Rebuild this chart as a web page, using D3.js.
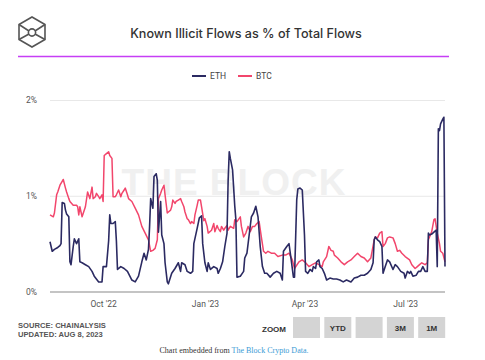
<!DOCTYPE html>
<html><head><meta charset="utf-8">
<script src="https://cdn.jsdelivr.net/npm/d3@7/dist/d3.min.js"></script>
<style>
html,body{margin:0;padding:0;background:#fff;}
svg{display:block;}
</style></head>
<body>
<svg id="chart" width="485" height="360"></svg>
<script>
// ---- data (values in % of total flows) ----
const ethDates = ["2022-08-14","2022-08-16","2022-08-18","2022-08-21","2022-08-23","2022-08-24","2022-08-25","2022-08-27","2022-08-28","2022-08-29","2022-08-31","2022-09-01","2022-09-02","2022-09-04","2022-09-05","2022-09-07","2022-09-09","2022-09-10","2022-09-12","2022-09-15","2022-09-18","2022-09-21","2022-09-23","2022-09-27","2022-09-30","2022-10-01","2022-10-04","2022-10-06","2022-10-07","2022-10-08","2022-10-10","2022-10-12","2022-10-13","2022-10-14","2022-10-17","2022-10-20","2022-10-23","2022-10-27","2022-10-30","2022-11-02","2022-11-05","2022-11-07","2022-11-09","2022-11-11","2022-11-12","2022-11-13","2022-11-15","2022-11-16","2022-11-18","2022-11-19","2022-11-20","2022-11-22","2022-11-23","2022-11-25","2022-11-26","2022-11-28","2022-11-29","2022-12-02","2022-12-05","2022-12-08","2022-12-10","2022-12-11","2022-12-14","2022-12-16","2022-12-19","2022-12-21","2022-12-22","2022-12-25","2022-12-27","2022-12-29","2022-12-30","2023-01-01","2023-01-03","2023-01-04","2023-01-06","2023-01-09","2023-01-12","2023-01-13","2023-01-15","2023-01-17","2023-01-19","2023-01-21","2023-01-22","2023-01-23","2023-01-24","2023-01-26","2023-01-28","2023-01-29","2023-01-30","2023-02-02","2023-02-05","2023-02-06","2023-02-08","2023-02-10","2023-02-12","2023-02-14","2023-02-16","2023-02-18","2023-02-20","2023-02-22","2023-02-24","2023-02-26","2023-03-01","2023-03-04","2023-03-07","2023-03-10","2023-03-12","2023-03-13","2023-03-16","2023-03-18","2023-03-20","2023-03-22","2023-03-23","2023-03-25","2023-03-26","2023-03-28","2023-03-30","2023-04-01","2023-04-02","2023-04-04","2023-04-06","2023-04-08","2023-04-09","2023-04-11","2023-04-12","2023-04-14","2023-04-15","2023-04-17","2023-04-19","2023-04-21","2023-04-24","2023-04-27","2023-04-30","2023-05-03","2023-05-06","2023-05-09","2023-05-13","2023-05-16","2023-05-19","2023-05-22","2023-05-25","2023-05-28","2023-05-31","2023-06-02","2023-06-03","2023-06-04","2023-06-06","2023-06-08","2023-06-10","2023-06-11","2023-06-13","2023-06-15","2023-06-17","2023-06-20","2023-06-22","2023-06-24","2023-06-27","2023-06-30","2023-07-01","2023-07-03","2023-07-05","2023-07-06","2023-07-08","2023-07-11","2023-07-13","2023-07-15","2023-07-17","2023-07-19","2023-07-21","2023-07-22","2023-07-23","2023-07-25","2023-07-27","2023-07-29","2023-07-30","2023-07-31","2023-08-01","2023-08-02","2023-08-04","2023-08-05","2023-08-06"];
const ethValues = [0.52,0.42,0.44,0.46,0.48,0.50,0.93,0.92,0.85,0.81,0.78,0.31,0.28,0.47,0.55,0.50,0.55,0.31,0.30,0.28,0.26,0.21,0.16,0.10,0.10,0.26,0.26,0.53,0.80,0.71,0.71,0.73,0.53,0.23,0.26,0.24,0.21,0.12,0.10,0.16,0.31,0.40,0.33,0.44,0.68,0.97,0.87,1.20,1.23,1.16,0.62,0.94,0.59,0.50,0.30,0.10,0.08,0.19,0.24,0.30,0.21,0.30,0.28,0.21,0.19,0.21,0.50,0.66,0.77,0.79,0.50,0.30,0.21,0.30,0.23,0.26,0.24,0.19,0.24,0.31,0.47,0.61,1.16,1.46,1.39,1.27,0.89,0.75,0.15,0.16,0.21,0.35,0.40,0.59,0.78,0.82,0.89,0.78,0.47,0.26,0.19,0.19,0.15,0.19,0.21,0.19,0.12,0.42,0.47,0.50,0.33,0.15,0.15,0.96,1.07,1.08,1.06,0.59,0.21,0.19,0.23,0.21,0.26,0.24,0.31,0.33,0.26,0.24,0.19,0.12,0.14,0.13,0.13,0.12,0.10,0.12,0.10,0.14,0.15,0.17,0.17,0.19,0.23,0.30,0.54,0.57,0.54,0.52,0.47,0.19,0.26,0.33,0.31,0.23,0.28,0.26,0.21,0.19,0.14,0.21,0.19,0.21,0.16,0.17,0.21,0.21,0.26,0.21,0.21,0.61,0.59,0.60,0.62,0.64,0.26,1.70,1.68,1.75,1.80,1.82,0.26];

const btcDates = ["2022-08-14","2022-08-17","2022-08-18","2022-08-20","2022-08-21","2022-08-23","2022-08-25","2022-08-26","2022-08-28","2022-08-29","2022-08-31","2022-09-01","2022-09-04","2022-09-07","2022-09-08","2022-09-09","2022-09-10","2022-09-12","2022-09-15","2022-09-17","2022-09-19","2022-09-21","2022-09-22","2022-09-24","2022-09-25","2022-09-27","2022-09-28","2022-09-30","2022-10-01","2022-10-02","2022-10-04","2022-10-06","2022-10-07","2022-10-09","2022-10-10","2022-10-12","2022-10-13","2022-10-15","2022-10-17","2022-10-18","2022-10-20","2022-10-21","2022-10-23","2022-10-24","2022-10-27","2022-10-30","2022-11-02","2022-11-05","2022-11-08","2022-11-11","2022-11-13","2022-11-15","2022-11-17","2022-11-19","2022-11-20","2022-11-22","2022-11-23","2022-11-25","2022-11-26","2022-11-28","2022-11-29","2022-12-01","2022-12-02","2022-12-03","2022-12-05","2022-12-06","2022-12-08","2022-12-10","2022-12-11","2022-12-13","2022-12-14","2022-12-16","2022-12-17","2022-12-19","2022-12-20","2022-12-22","2022-12-23","2022-12-25","2022-12-26","2022-12-28","2022-12-29","2022-12-31","2023-01-01","2023-01-03","2023-01-04","2023-01-07","2023-01-09","2023-01-10","2023-01-12","2023-01-13","2023-01-15","2023-01-16","2023-01-18","2023-01-19","2023-01-21","2023-01-22","2023-01-24","2023-01-27","2023-01-28","2023-01-30","2023-02-02","2023-02-03","2023-02-05","2023-02-07","2023-02-09","2023-02-11","2023-02-13","2023-02-15","2023-02-17","2023-02-19","2023-02-21","2023-02-23","2023-02-25","2023-02-27","2023-03-02","2023-03-05","2023-03-08","2023-03-12","2023-03-15","2023-03-18","2023-03-21","2023-03-23","2023-03-27","2023-03-30","2023-04-02","2023-04-05","2023-04-08","2023-04-11","2023-04-14","2023-04-17","2023-04-18","2023-04-21","2023-04-23","2023-04-25","2023-04-27","2023-04-28","2023-05-01","2023-05-04","2023-05-07","2023-05-10","2023-05-13","2023-05-16","2023-05-19","2023-05-22","2023-05-25","2023-05-28","2023-05-31","2023-06-03","2023-06-04","2023-06-06","2023-06-08","2023-06-10","2023-06-11","2023-06-13","2023-06-15","2023-06-17","2023-06-20","2023-06-22","2023-06-24","2023-06-26","2023-06-28","2023-07-01","2023-07-05","2023-07-07","2023-07-10","2023-07-12","2023-07-14","2023-07-16","2023-07-19","2023-07-21","2023-07-22","2023-07-25","2023-07-27","2023-07-28","2023-07-30","2023-08-01","2023-08-02","2023-08-04","2023-08-06"];
const btcValues = [0.80,0.78,0.82,1.01,1.04,1.11,1.15,1.17,1.08,1.04,0.97,0.94,0.90,0.90,0.885,0.80,0.885,0.78,0.885,1.04,0.97,1.09,0.97,0.99,1.025,0.99,0.97,1.01,0.94,1.42,1.44,1.46,1.42,1.39,0.99,0.99,1.01,1.06,0.99,1.025,1.06,1.08,1.01,0.97,0.94,0.87,0.80,0.68,0.61,0.54,0.42,0.43,0.45,0.54,0.97,1.025,1.06,1.11,1.01,0.82,0.83,0.85,0.885,0.955,0.92,0.94,0.955,0.97,0.94,0.885,0.83,0.76,0.75,0.71,0.73,0.71,0.80,0.90,0.955,0.955,0.885,0.74,0.76,0.68,0.61,0.64,0.71,0.625,0.69,0.66,0.625,0.68,0.64,0.66,0.69,0.64,0.68,0.66,0.75,0.73,0.78,0.68,0.57,0.61,0.68,0.625,0.68,0.68,0.71,0.73,0.57,0.42,0.40,0.42,0.40,0.40,0.365,0.38,0.38,0.40,0.33,0.24,0.31,0.33,0.30,0.26,0.28,0.30,0.28,0.26,0.31,0.365,0.47,0.43,0.42,0.38,0.35,0.31,0.28,0.31,0.33,0.365,0.40,0.365,0.35,0.31,0.35,0.54,0.57,0.56,0.61,0.625,0.47,0.50,0.56,0.57,0.56,0.50,0.42,0.43,0.40,0.365,0.33,0.28,0.24,0.26,0.28,0.30,0.28,0.30,0.54,0.625,0.75,0.76,0.61,0.50,0.42,0.40,0.31];

const yTicks = [0, 1, 2];
const xTicks = ["2022-10-01","2023-01-01","2023-04-01","2023-07-01"];
const seriesNames = ["ETH","BTC"];
const seriesColors = ["#2b2a62","#f2466c"];
const zoomButtons = ["", "YTD", "", "3M", "1M"];

// ---- drawing ----
const svg = d3.select("#chart");
const parse = d3.timeParse("%Y-%m-%d");
const ML = 50, MR = 445, MT = 100, MB = 291.5;

const x = d3.scaleTime().domain([parse("2022-08-14"), parse("2023-08-06")]).range([ML, MR]);
const y = d3.scaleLinear().domain([0, 2]).range([MB, MT]);

// logo
const logo = svg.append("g").attr("fill","none").attr("stroke","#555").attr("stroke-width",1.6);
const cx = 32, cy = 32, r = 15;
const hex = d3.range(6).map(i => { const a = Math.PI/180*(60*i-90); return [cx + r*Math.cos(a), cy + r*Math.sin(a)]; });
logo.append("path").attr("d", d3.line()(hex) + "Z");
logo.append("path").attr("d", `M${hex[5][0]},${hex[5][1]} L${cx-3},${cy-1} M${hex[1][0]},${hex[1][1]} L${cx+3},${cy-1} M${hex[4][0]},${hex[4][1]} L${cx-3},${cy+2} M${hex[2][0]},${hex[2][1]} L${cx+3},${cy+2}`);
logo.append("circle").attr("cx",cx).attr("cy",cy+0.5).attr("r",3.6);

// title
svg.append("text").attr("x",246).attr("y",38).attr("text-anchor","middle")
  .attr("font-family","Inter, Roboto, sans-serif").attr("font-weight",500)
  .attr("font-size",12.6).attr("fill","#333").text("Known Illicit Flows as % of Total Flows");
svg.append("line").attr("x1",18).attr("x2",449).attr("y1",56.5).attr("y2",56.5)
  .attr("stroke","#c63ef5").attr("stroke-width",1.3);

// legend
const leg = svg.append("g").attr("font-family","Roboto, sans-serif").attr("font-size",8.5).attr("fill","#444");
const legX = [192, 238];
seriesNames.forEach((n,i) => {
  leg.append("line").attr("x1",legX[i]).attr("x2",legX[i]+14).attr("y1",76).attr("y2",76)
    .attr("stroke",seriesColors[i]).attr("stroke-width",2);
  leg.append("text").attr("x",legX[i]+18).attr("y",79).text(n);
});

// watermark
svg.append("text").attr("x",234).attr("y",195).attr("text-anchor","middle")
  .attr("font-family","'Liberation Sans', Arial, sans-serif").attr("font-weight",700)
  .attr("font-size",37).attr("fill","#f0f0f0").attr("letter-spacing",1).text("THE BLOCK");

// y axis with gridlines
const yAxis = svg.append("g").attr("transform",`translate(${ML},0)`)
  .call(d3.axisLeft(y).tickValues(yTicks).tickSize(-(MR-ML)).tickFormat(d => d + "%"));
yAxis.select(".domain").remove();
yAxis.selectAll(".tick line").attr("stroke", d => d === 0 ? "#8a8a8a" : "#e8e8e8").attr("stroke-width", d => d === 0 ? 1.2 : 1);
yAxis.selectAll(".tick text").attr("x",-13).attr("font-family","Roboto, sans-serif").attr("font-size",8.5).attr("fill","#555");

// x axis
const xAxis = svg.append("g").attr("transform",`translate(0,${MB})`)
  .call(d3.axisBottom(x).tickValues(xTicks.map(parse)).tickSize(0).tickFormat(d3.timeFormat("%b '%y")));
xAxis.select(".domain").remove();
xAxis.selectAll(".tick text").attr("dy","0.71em").attr("y",9).attr("font-family","Roboto, sans-serif").attr("font-size",8.5).attr("fill","#555");

// lines
const line = d3.line().x(d => x(d[0])).y(d => y(d[1])).curve(d3.curveLinear);
const ethData = ethDates.map((d,i) => [parse(d), ethValues[i]]);
const btcData = btcDates.map((d,i) => [parse(d), btcValues[i]]);
svg.append("path").datum(btcData).attr("d",line).attr("fill","none").attr("stroke",seriesColors[1]).attr("stroke-width",1.5).attr("stroke-linejoin","round");
svg.append("path").datum(ethData).attr("d",line).attr("fill","none").attr("stroke",seriesColors[0]).attr("stroke-width",1.6).attr("stroke-linejoin","round");

// footer
const foot = svg.append("g").attr("font-family","'Liberation Sans', Arial, sans-serif").attr("font-weight",700).attr("font-size",7.6).attr("fill","#555");
foot.append("text").attr("x",18).attr("y",328).text("SOURCE: CHAINALYSIS");
foot.append("text").attr("x",18).attr("y",336.5).text("UPDATED: AUG 8, 2023");
svg.append("text").attr("x",262).attr("y",332).attr("font-family","'Liberation Sans', Arial, sans-serif")
  .attr("font-weight",700).attr("font-size",8).attr("fill","#333").text("ZOOM");
zoomButtons.forEach((b,i) => {
  const bx = 293 + i*31.3;
  svg.append("rect").attr("x",bx).attr("y",317).attr("width",27).attr("height",21).attr("fill","#d4d4d4");
  svg.append("text").attr("x",bx+13.5).attr("y",331).attr("text-anchor","middle")
    .attr("font-family","'Liberation Sans', Arial, sans-serif").attr("font-weight",700).attr("font-size",8).attr("fill","#333").text(b);
});
const emb = svg.append("text").attr("x",234).attr("y",353).attr("text-anchor","middle")
  .attr("font-family","'Liberation Serif', 'Times New Roman', serif").attr("font-size",8).attr("fill","#333");
emb.append("tspan").text("Chart embedded from ");
emb.append("tspan").attr("fill","#3a9bd5").text("The Block Crypto Data.");
</script>
</body></html>
